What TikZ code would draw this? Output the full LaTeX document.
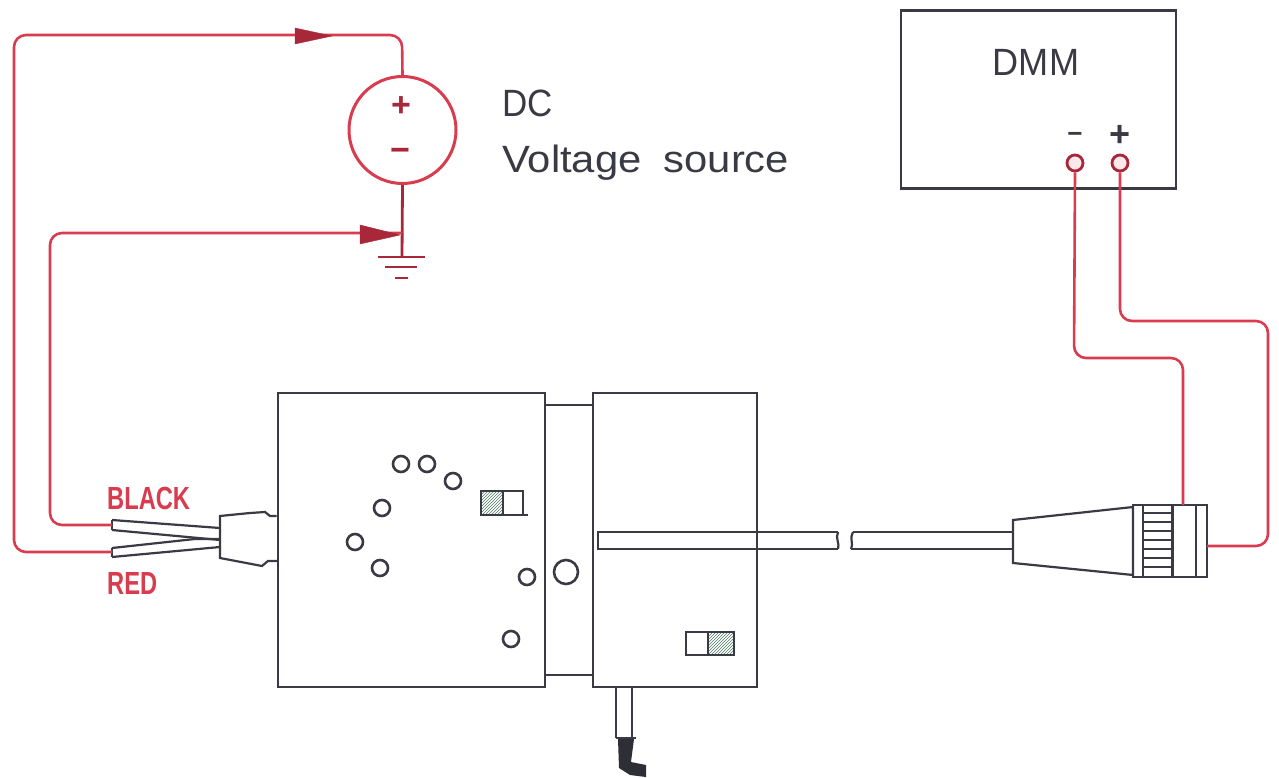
\documentclass[tikz,border=0pt]{standalone}
\usepackage{fontspec}
\setmainfont{Liberation Sans}
\usetikzlibrary{patterns,arrows.meta}
\definecolor{wire}{HTML}{D83C4E}
\definecolor{darkwire}{HTML}{A8283A}
\definecolor{ink}{HTML}{3A3A44}
\definecolor{hatchgreen}{HTML}{4E7A62}
\tikzset{
  wireline/.style={draw=wire,line width=2.6pt,rounded corners=12pt},
  srcline/.style={draw=darkwire,line width=2.8pt},
  inkline/.style={draw=ink,line width=2.2pt},
  hole/.style={circle,draw=ink,line width=2.6pt,minimum size=16pt,inner sep=0pt},
  bigbox/.style={rectangle,draw=ink,line width=2.2pt,inner sep=0pt,anchor=north west},
  terminal/.style={circle,draw=darkwire,line width=2.8pt,minimum size=16pt,inner sep=0pt,fill=wire!12},
  headtip/.style={fill=darkwire,draw=darkwire,line join=miter},
  lbl/.style={inner sep=0pt,text=ink,font=\fontsize{38}{40}\selectfont},
  redlbl/.style={inner sep=0pt,anchor=west,text=wire,font=\fontsize{32}{33}\selectfont\bfseries},
  signlbl/.style={inner sep=0pt,text=darkwire,font=\fontsize{34}{34}\selectfont\bfseries},
}
\begin{document}
\begin{tikzpicture}[x=1pt,y=-1pt]
\useasboundingbox (0,0) rectangle (1279,778);
% source
\node[circle,draw=wire,line width=3pt,minimum size=107pt,inner sep=0pt] (src) at (402.5,130) {};
\node[signlbl] (plus) at (401,107) {+};
\node[signlbl] (minus) at (400,155) {\textminus};
\coordinate (gnd) at (402,257);
\coordinate (junc) at (402,233);
\draw[srcline] (src.south) -- (gnd);
\draw[srcline,line width=2.4pt] (378,257) -- (425,257);
\draw[srcline,line width=2.4pt] (385,267) -- (417,267);
\draw[srcline,line width=2.4pt] (395,278) -- (408,278);
% main blocks
\node[bigbox,minimum width=267pt,minimum height=294pt] (left) at (276.5,391.5) {};
\node[bigbox,minimum width=164pt,minimum height=294pt] (right) at (591.5,391.5) {};
\draw[inkline] (544,405) -- (592,405);
\draw[inkline] (544,675) -- (592,675);
% plug on left
\coordinate (leadA) at (112,525);
\coordinate (leadB) at (112,552);
\draw[inkline] (left.west |- 0,516) -- (270,516) -- (265,512) -- (250,513) -- (220,516) -- (220,558) -- (262,566) -- (268,561) -- (277,561);
\draw[inkline] (112,520) -- (220,528);
\draw[inkline] (112,530) -- (220,540);
\draw[inkline] (112,520) -- (112,530);
\draw[inkline] (112,548) -- (195,539) -- (220,539);
\draw[inkline] (112,557) -- (220,547);
\draw[inkline] (112,548) -- (112,557);
% red wires
\draw[wireline] (leadB) -- (14,552) -- (14,35) -- (402,35) -- (src.north);
\draw[wireline] (leadA) -- (50,525) -- (50,233) -- (junc);
\fill[headtip] (295,28) -- (332,36) -- (295,44) -- cycle;
\fill[headtip] (360,225) -- (400,235) -- (360,244) -- cycle;
% labels
\node[redlbl] (black) at (107,498) {\scalebox{.74}[1]{BLACK}};
\node[redlbl] (red) at (107,583) {\scalebox{.74}[1]{RED}};
\node[lbl,anchor=west] (dc) at (502,103) {\scalebox{.92}[1]{DC}};
\node[lbl,anchor=west] (vs) at (502,163) {\scalebox{1.1}[1]{Voltage\hspace{.25em} source}};
% DMM
\node[bigbox,minimum width=275pt,minimum height=178pt] (dmm) at (899.5,9.5) {};
\node[lbl] (dmmt) at (1036,62) {\scalebox{.95}[1]{DMM}};
\node[terminal] (tm) at (1075,163) {};
\node[terminal] (tp) at (1120,163) {};
\node[inner sep=0pt,text=ink,font=\fontsize{26}{26}\selectfont\bfseries] (tms) at (1075,137) {\textminus};
\node[inner sep=0pt,text=ink,font=\fontsize{36}{36}\selectfont\bfseries] (tps) at (1120,136) {+};
% holes
\node[hole] (h1) at (401,464) {};
\node[hole] (h2) at (427,464) {};
\node[hole] (h3) at (453,481) {};
\node[hole] (h4) at (382,508) {};
\node[hole] (h5) at (355,542) {};
\node[hole] (h6) at (380,568) {};
\node[hole] (h7) at (527,577) {};
\node[hole,minimum size=24pt] (h8) at (566,572) {};
\node[hole] (h9) at (511,639) {};
% latches
\fill[pattern=north east lines,pattern color=hatchgreen] (481,491) rectangle (503,515);
\draw[inkline] (481,491) rectangle (503,515);
\draw[inkline] (503,491) -- (523,491) -- (523,515);
\draw[inkline] (503,515) -- (528,515);
\draw[inkline] (686,632) rectangle (708,655);
\fill[pattern=north east lines,pattern color=hatchgreen] (708,632) rectangle (734,655);
\draw[inkline] (708,632) rectangle (734,655);
% cable
\draw[inkline] (838,532) -- (598,532) -- (598,549) -- (838,549);
\draw[inkline] (838,532) .. controls (835,538) and (840,544) .. (838,549);
\draw[inkline] (853,532) .. controls (849,538) and (854,544) .. (851,549);
\coordinate (cabA) at (853,532);
\coordinate (cabB) at (851,549);
% BNC
\draw[inkline] (1013,520) -- (1133,507) -- (1133,575) -- (1013,563) -- cycle;
\draw[inkline] (cabA) -- (1013,532);
\draw[inkline] (cabB) -- (1013,549);
\draw[inkline] (1133,505) rectangle (1207,577);
\draw[inkline] (1143,505) -- (1143,577);
\draw[inkline,line width=3pt] (1172,505) -- (1172,577);
\draw[inkline] (1196,505) -- (1196,577);
\foreach \yy in {513,522,531,540,549,558,567}
  \draw[inkline] (1143,\yy) -- (1172,\yy);
\coordinate (bncA) at (1183,505);
\coordinate (bncB) at (1207,546);
\draw[wireline] (tm.south) -- (1074,358) -- (1183,358) -- (bncA);
\draw[wireline] (tp.south) -- (1120,321) -- (1268,321) -- (1268,546) -- (bncB);
% lower cable
\draw[inkline] (616,686) -- (616,738);
\draw[inkline] (632,686) -- (632,738);
\draw[inkline] (616,738) -- (636,738);
\fill[ink!80!black] (618,739) -- (634,739) -- (631,762) -- (646,765) -- (646,777) -- (630,775) -- (619,768) -- cycle;
\end{tikzpicture}
\end{document}
